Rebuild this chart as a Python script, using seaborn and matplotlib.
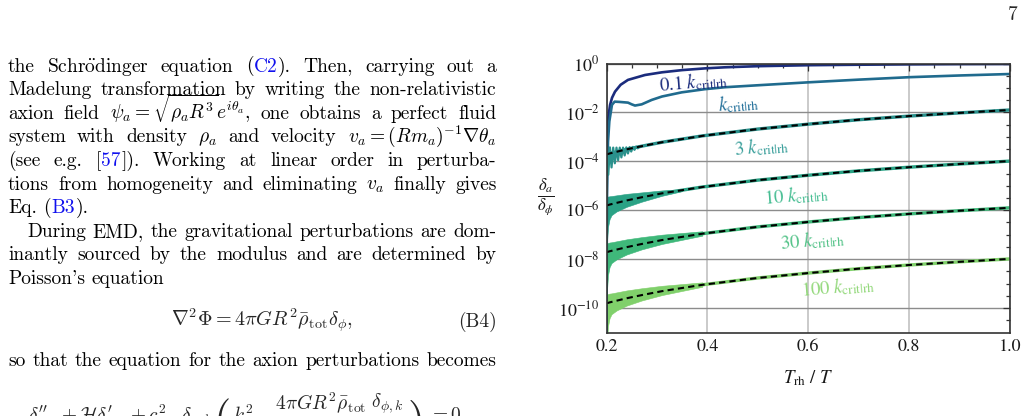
import numpy as np
import matplotlib
matplotlib.use('Agg')
import matplotlib.pyplot as plt
import matplotlib.ticker as mticker
import seaborn as sns

W, H = 1029, 416

# x = T_rh / T, values are log10(delta_a / delta_phi)
T_01 = [0.2, 0.2006, 0.202, 0.2036, 0.207, 0.211, 0.2169, 0.228, 0.2426, 0.2763,
        0.31, 0.35, 0.395, 0.435, 0.5, 0.6, 0.7, 0.8, 0.9, 1.0]
logd_01 = [-11, -4.5, -2.9, -2.22, -1.7, -1.4, -1.15, -0.87, -0.67, -0.47,
           -0.36, -0.27, -0.20, -0.155, -0.11, -0.07, -0.05, -0.035, -0.025, -0.02]

T_1 = [0.2, 0.2008, 0.203, 0.2056, 0.2108, 0.2162, 0.225, 0.2426, 0.25, 0.2565, 0.2698,
       0.2896, 0.31, 0.349, 0.395, 0.435, 0.5, 0.6, 0.7, 0.8, 0.9, 1.0]
logd_1 = [-11, -5.5, -3.2, -2.37, -1.69, -1.56, -1.57, -1.60, -1.67, -1.72, -1.67,
          -1.49, -1.35, -1.18, -1.05, -0.97, -0.89, -0.77, -0.66, -0.56, -0.49, -0.43]

# late-time curves (coloured) with the analytic estimate (black dashed) on top
T_fit = [0.2, 0.201, 0.203, 0.206, 0.21, 0.22, 0.24, 0.27, 0.31, 0.35, 0.39,
         0.5, 0.6, 0.7, 0.8, 0.9, 1.0]
logd_3 = [-3.72, -3.71, -3.70, -3.68, -3.66, -3.61, -3.51, -3.38, -3.22, -3.09, -2.96,
          -2.68, -2.48, -2.30, -2.15, -2.02, -1.90]
logd_10 = [-5.81, -5.80, -5.79, -5.77, -5.75, -5.70, -5.60, -5.47, -5.31, -5.18, -5.05,
           -4.77, -4.57, -4.39, -4.24, -4.11, -3.99]
logd_30 = [-7.72, -7.71, -7.70, -7.68, -7.66, -7.61, -7.51, -7.38, -7.22, -7.09, -6.96,
           -6.68, -6.48, -6.30, -6.15, -6.02, -5.90]
logd_100 = [-9.81, -9.80, -9.79, -9.77, -9.75, -9.70, -9.60, -9.47, -9.31, -9.18, -9.05,
            -8.77, -8.57, -8.39, -8.24, -8.11, -7.99]

# oscillation envelope (decades above / below the curve) at the first T_fit points
band_up = [0.36, 0.36, 0.36, 0.36, 0.35, 0.34, 0.32, 0.28, 0.22, 0.16, 0.10]
band_lo = [-6.0, -1.6, -0.95, -0.65, -0.5, -0.4, -0.3, -0.22, -0.16, -0.12, -0.08]
band_up_10 = [0.35, 0.35, 0.35, 0.34, 0.33, 0.31, 0.27, 0.2, 0.12, 0.04]
band_lo_10 = [-6.0, -1.5, -0.9, -0.6, -0.45, -0.35, -0.26, -0.18, -0.1, -0.04]

# the 3 k curve still oscillates visibly at early times
T_3osc = [0.2, 0.2005, 0.2035, 0.2068, 0.2100, 0.2133, 0.2165, 0.2198, 0.2230, 0.2263,
          0.2295, 0.2328, 0.2360, 0.2393, 0.2425, 0.2458, 0.2490, 0.2523, 0.2555, 0.2588,
          0.2620, 0.2653, 0.27]
logd_3osc = [-11, -3.42, -4.55, -3.43, -4.25, -3.44, -4.08, -3.44, -3.95, -3.44,
             -3.84, -3.44, -3.76, -3.43, -3.68, -3.42, -3.60, -3.41, -3.53, -3.40,
             -3.47, -3.39, -3.38]

k_labels = [r'$0.1\ k_{\rm crit|rh}$', r'$k_{\rm crit|rh}$', r'$3\ k_{\rm crit|rh}$',
            r'$10\ k_{\rm crit|rh}$', r'$30\ k_{\rm crit|rh}$', r'$100\ k_{\rm crit|rh}$']
line_colors = ['#1b2c7d', '#206b8e', '#2a918c', '#2aa285', '#3fb87a', '#80d06b']
text_colors = ['#1b2c7d', '#23709a', '#3a9f9b', '#45bd92', '#52c287', '#92d87a']
ytick_exp = [0, -2, -4, -6, -8, -10]
xticks = [0.2, 0.4, 0.6, 0.8, 1.0]

sns.set_theme(style='white')
plt.rcParams['mathtext.fontset'] = 'stix'
plt.rcParams['font.family'] = ['STIXGeneral', 'DejaVu Serif']

fig = plt.figure(figsize=(W / 100, H / 100), dpi=100)
fig.patch.set_facecolor('white')
ax = fig.add_axes([606.5 / W, 1 - 332.5 / H, 403.5 / W, 269 / H])
ax.set_yscale('log')


def curve(T, logd, color, lw):
    sns.lineplot(x=np.array(T), y=10.0 ** np.array(logd), color=color, linewidth=lw,
                 ax=ax, estimator=None, sort=False, legend=False)


curve(T_01, logd_01, line_colors[0], 1.9)
curve(T_1, logd_1, line_colors[1], 1.9)

curve(T_fit, logd_3, line_colors[2], 2.4)
curve(T_3osc, logd_3osc, line_colors[2], 1.6)

for logd, up, lo, c in [(logd_10, band_up_10, band_lo_10, line_colors[3]),
                        (logd_30, band_up, band_lo, line_colors[4]),
                        (logd_100, band_up, band_lo, line_colors[5])]:
    n = len(up)
    base = np.array(logd[:n])
    ax.fill_between(T_fit[:n], 10.0 ** (base + np.array(lo)), 10.0 ** (base + np.array(up)),
                    color=c, linewidth=0.4)
    curve(T_fit, logd, c, 2.4)

for logd in [logd_3, logd_10, logd_30, logd_100]:
    ax.plot(T_fit, 10.0 ** np.array(logd), color='black', linewidth=1.5, dashes=(3, 2))

ax.set_xlim(0.2, 1.0)
ax.set_ylim(1e-11, 1.0)
ax.set_xticks(xticks)
ax.set_xticklabels(['%.1f' % v for v in xticks])
ax.xaxis.set_minor_locator(mticker.MultipleLocator(0.05))
ax.set_yticks([10.0 ** e for e in ytick_exp])
ax.set_yticklabels([r'$10^{%d}$' % e for e in ytick_exp])
ax.yaxis.set_minor_locator(mticker.FixedLocator(
    [10.0 ** e for e in np.arange(-10.5, 0, 0.5) if e % 2 != 0]))
ax.yaxis.set_minor_formatter(mticker.NullFormatter())
ax.tick_params(which='both', direction='in', top=True, right=True, color='#333333',
               labelcolor='#1a1a1a', labelsize=13, width=0.9)
ax.tick_params(which='major', length=5, pad=5)
ax.tick_params(which='minor', length=3)
ax.xaxis.grid(True, which='major', color='#c6c6c6', linewidth=1.3)
ax.yaxis.grid(True, which='major', color='#8c8c8c', linewidth=1.0)
ax.set_axisbelow(True)
for s in ax.spines.values():
    s.set_color('#333333')
    s.set_linewidth(1.2)


def px(x, y):
    return x / W, 1 - y / H


label_pos = [(694, 82), (739, 103), (762, 147), (796, 195), (812, 240), (838, 287)]
for lab, (x, y), c in zip(k_labels, label_pos, text_colors):
    fig.text(*px(x, y), lab, color=c, fontsize=13.5, rotation=5, ha='center', va='center',
             rotation_mode='anchor')

fig.text(*px(546, 197), r'$\frac{\delta_a}{\delta_\phi}$', fontsize=17, ha='center',
         va='center', color='#1a1a1a')
fig.text(*px(808, 378), r'$T_{\rm rh}\ /\ T$', fontsize=13.5, ha='center', va='center',
         color='#1a1a1a')

# --- text column of the page ---
body_kw = dict(family='cmr10', math_fontfamily='cm', va='baseline', ha='left')
lines = [
    (71.5, 8, r'the Schr$\ddot{\mathrm{o}}$dinger equation (@C2@). Then, carrying out a', True),
    (95.1, 8, r'Madelung transformation by writing the non-relativistic', True),
    (118.7, 8, r'axion field $\psi_a=\sqrt{\rho_aR^3}e^{i\theta_a}$, one obtains a perfect fluid', True),
    (142.3, 8, r'system with density $\rho_a$ and velocity $v_a=(Rm_a)^{-1}\nabla\theta_a$', True),
    (165.9, 8, r'(see e.g. [@57@]). Working at linear order in perturba-', True),
    (189.5, 8, r'tions from homogeneity and eliminating $v_a$ finally gives', True),
    (213.1, 8, r'Eq. (@B3@).', False),
    (236.7, 27, r'During EMD, the gravitational perturbations are dom-', True),
    (260.3, 8, r'inantly sourced by the modulus and are determined by', True),
    (283.9, 8, r"Poisson's equation", False),
    (366.5, 8, r'so that the equation for the axion perturbations becomes', True),
]


def put_words(y, x0, line, justify, x1=497):
    r = fig.canvas.get_renderer()
    words = []
    for word in line.split(' '):
        pieces = []
        for i, part in enumerate(word.split('@')):
            if part == '':
                continue
            t = fig.text(0, 0, part, color='#1010ee' if i % 2 else 'black', fontsize=14,
                         **body_kw)
            pieces.append((t, t.get_window_extent(r).width + 0.6))
        words.append(pieces)
    total = sum(w for p in words for _, w in p)
    gap = (x1 - x0 - total) / (len(words) - 1) if justify else 6.0
    x = x0
    for p in words:
        for t, w in p:
            t.set_position(px(x, y))
            x += w
        x += gap


for y, x0, line, just in lines:
    put_words(y, x0, line, just)

fig.text(*px(262, 327), r'$\nabla^2\Phi=4\pi GR^2\bar{\rho}_{\rm tot}\delta_\phi,$',
         fontsize=14.5, math_fontfamily='cm', ha='center', va='baseline')
fig.text(*px(497, 327), '(B4)', fontsize=14, family='cmr10', ha='right', va='baseline')

# last display equation, cut by the page edge; big parentheses drawn as separate glyphs
eq_parts = [
    (r'$\delta_{a,k}^{\prime\prime}+\mathcal{H}\delta_{a,k}^{\prime}+c_{s,a}^2\,\delta_{a,k}$', 14, 0),
    ('(', 32, 11),
    (r'$k^2-\dfrac{4\pi GR^2\bar{\rho}_{\rm tot}}{c_{s,a}^2}\,\dfrac{\delta_{\phi,k}}{\delta_{a,k}}$', 14, 0),
    (')', 32, 11),
    (r'$\,=0$', 14, 0),
]
r = fig.canvas.get_renderer()
x = 28
for s, fs, dy in eq_parts:
    t = fig.text(*px(x, 421 + dy), s, fontsize=fs, **body_kw)
    x += t.get_window_extent(r).width + 2

fig.text(*px(1013, 20), '7', fontsize=14, family='cmr10', ha='center', va='baseline')

fig.savefig('out.png', dpi=100)
